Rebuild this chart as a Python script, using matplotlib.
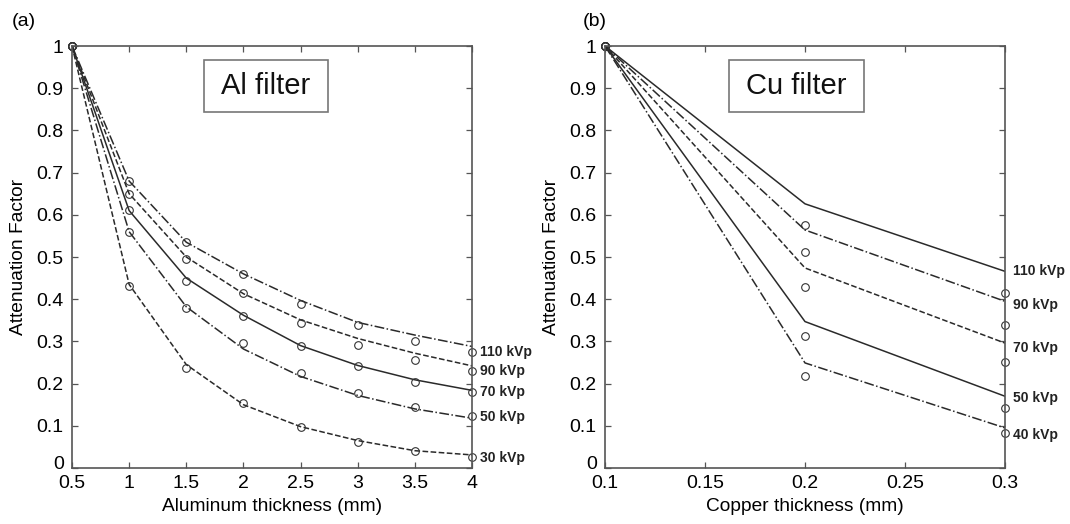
import matplotlib
matplotlib.use("Agg")
import matplotlib.pyplot as plt
from matplotlib.patches import Rectangle
from matplotlib.transforms import ScaledTranslation

plt.rcParams['font.family'] = ['Liberation Sans', 'DejaVu Sans']

# Al filter data
al_x = [0.5, 1, 1.5, 2, 2.5, 3, 3.5, 4]
al_labels = ['110 kVp', '90 kVp', '70 kVp', '50 kVp', '30 kVp']
al_fit = [
    [1, 0.680, 0.535, 0.460, 0.397, 0.345, 0.315, 0.288],
    [1, 0.650, 0.500, 0.413, 0.351, 0.307, 0.272, 0.242],
    [1, 0.610, 0.450, 0.362, 0.290, 0.243, 0.209, 0.184],
    [1, 0.560, 0.382, 0.282, 0.217, 0.172, 0.140, 0.118],
    [1, 0.435, 0.245, 0.150, 0.098, 0.065, 0.041, 0.031],
]
al_meas = [
    [1, 0.681, 0.535, 0.460, 0.389, 0.339, 0.301, 0.274],
    [1, 0.649, 0.495, 0.414, 0.343, 0.292, 0.256, 0.229],
    [1, 0.612, 0.444, 0.361, 0.290, 0.241, 0.204, 0.180],
    [1, 0.559, 0.380, 0.296, 0.226, 0.178, 0.144, 0.123],
    [1, 0.432, 0.237, 0.155, 0.097, 0.062, 0.040, 0.026],
]
al_label_y = [0.276, 0.229, 0.179, 0.122, 0.024]
al_styles = ['-.', '--', '-', '-.', '--']

# Cu filter data
cu_x = [0.1, 0.2, 0.3]
cu_labels = ['110 kVp', '90 kVp', '70 kVp', '50 kVp', '40 kVp']
cu_fit = [
    [1, 0.626, 0.466],
    [1, 0.564, 0.395],
    [1, 0.474, 0.296],
    [1, 0.347, 0.170],
    [1, 0.249, 0.095],
]
cu_meas = [
    [1, 0.575, 0.414],
    [1, 0.511, 0.339],
    [1, 0.428, 0.252],
    [1, 0.312, 0.142],
    [1, 0.219, 0.083],
]
cu_label_y = [0.466, 0.387, 0.284, 0.165, 0.078]
cu_styles = ['-', '-.', '--', '-', '-.']

line_col = '#2a2a2a'
spine_col = '#555555'


def draw_panel(fig, ax, x, fits, meas, styles, labels, label_y, xticks, xlabel, title, box):
    for fit, m, ls in zip(fits, meas, styles):
        ax.plot(x, fit, ls, color=line_col, lw=1.1)
        ax.plot(x, m, 'o', mfc='none', mec='#333333', ms=5.5, mew=0.8, clip_on=False)
    xmax = xticks[-1]
    dx = (xticks[-1] - xticks[0]) * 0.02
    for lab, yy in zip(labels, label_y):
        ax.text(xmax + dx, yy, lab, fontsize=10, fontweight='bold', color='#222222',
                va='center', ha='left', clip_on=False)
    ax.set_xlim(xticks[0], xticks[-1])
    ax.set_ylim(0, 1)
    ax.set_xticks(xticks)
    ax.set_xticklabels([('%g' % t) for t in xticks])
    yt = [i / 10 for i in range(11)]
    ax.set_yticks(yt)
    ax.set_yticklabels([('%g' % t) for t in yt])
    ax.tick_params(direction='in', length=4, width=0.9, top=True, right=True,
                   labelsize=14, color=spine_col)
    ax.tick_params(axis='y', pad=6)
    ax.tick_params(axis='x', pad=5)
    # nudge the "0" label up a little so it does not sit on the first x label
    lab0 = ax.get_yticklabels()[0]
    lab0.set_transform(lab0.get_transform() + ScaledTranslation(0, 4 / 72, fig.dpi_scale_trans))
    for s in ax.spines.values():
        s.set_color(spine_col)
        s.set_linewidth(1.2)
    ax.set_xlabel(xlabel, fontsize=13.75)
    ax.set_ylabel('Attenuation Factor', fontsize=13.75)
    ax.yaxis.set_label_coords(-0.1125, 0.5)
    ax.xaxis.set_label_coords(0.5, -0.071)
    bx0, bx1, by0, by1 = box
    ax.add_patch(Rectangle((bx0, by0), bx1 - bx0, by1 - by0, transform=ax.transAxes,
                           fill=False, ec='#777777', lw=1.2))
    ax.text((bx0 + bx1) / 2, (by0 + by1) / 2, title, transform=ax.transAxes,
            fontsize=21, ha='center', va='center', color='#111111')


fig = plt.figure(figsize=(10.7, 5.24), dpi=100)
ax1 = fig.add_axes([72 / 1070, 56 / 524, 400 / 1070, 422 / 524])
ax2 = fig.add_axes([605 / 1070, 56 / 524, 400 / 1070, 422 / 524])

draw_panel(fig, ax1, al_x, al_fit, al_meas, al_styles, al_labels, al_label_y,
           [0.5, 1, 1.5, 2, 2.5, 3, 3.5, 4], 'Aluminum thickness (mm)', 'Al filter',
           (0.33, 0.64, 0.843, 0.968))
draw_panel(fig, ax2, cu_x, cu_fit, cu_meas, cu_styles, cu_labels, cu_label_y,
           [0.1, 0.15, 0.2, 0.25, 0.3], 'Copper thickness (mm)', 'Cu filter',
           (0.31, 0.6475, 0.843, 0.968))

fig.text(12 / 1070, 1 - 21 / 524, '(a)', fontsize=14, va='center', ha='left')
fig.text(583 / 1070, 1 - 21 / 524, '(b)', fontsize=14, va='center', ha='left')

fig.savefig('out.png', dpi=100)
